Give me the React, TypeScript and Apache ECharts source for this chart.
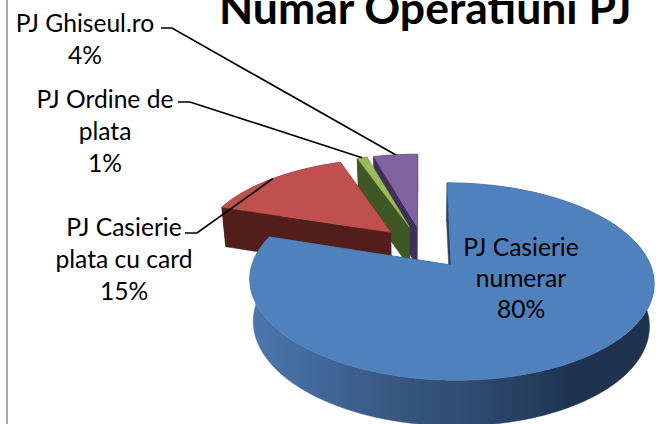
import React, { useEffect, useRef } from "react";
import * as echarts from "echarts";

const names = ["PJ Casierie\nnumerar", "PJ Casierie\nplata cu card", "PJ Ordine de\nplata", "PJ Ghiseul.ro"];
const values = [80, 14.6, 1, 4.4];
const shownPercents = ["80%", "15%", "1%", "4%"];
const topColors = ["#4F81BD", "#C0504D", "#9BBB59", "#8064A2"];
const wallColors = ["#2A4365", "#521E1C", "#3F5722", "#3E3058"];
const paintOrder = [3, 2, 1, 0];

const CX = 423, CY = 247, RX = 193, RY = 90, PERSP = 0.162, EXPLODE = 0.24, DEPTH = 41;
const labelLayout = [
  { x: 521, y: 277, elbow: null },
  { x: 124, y: 258, elbow: [[185, 233], [197, 233]] },
  { x: 105, y: 130, elbow: [[178, 102], [190, 102]] },
  { x: 85, y: 38, elbow: [[161, 28], [172, 28]] },
];
const FONT = "Lato, Carlito, Calibri, sans-serif";

const rad = (a: number) => (a * Math.PI) / 180;
const total = values.reduce((s, v) => s + v, 0);
const starts: number[] = [];
values.reduce((acc, v) => { starts.push((acc / total) * 360); return acc + v; }, 0);
const sweep = (i: number) => (values[i] / total) * 360;

function proj(u: number, v: number, bottom = false): number[] {
  const w = 1 - PERSP * v;
  const X = (u * RX) / w, Y = (v * RY) / w;
  return bottom ? [CX + 0.98 * X, CY + Y + DEPTH / Math.sqrt(w)] : [CX + X, CY + Y];
}
function sliceFrame(i: number) {
  const mid = starts[i] + sweep(i) / 2;
  const ou = EXPLODE * Math.sin(rad(mid)), ov = -EXPLODE * Math.cos(rad(mid));
  const rim = (a: number): number[] => [ou + Math.sin(rad(a)), ov - Math.cos(rad(a))];
  return { ou, ov, rim, mid };
}

function renderSlice(_p: any, api: any) {
  const i = api.value(0) as number;
  const { ou, ov, rim } = sliceFrame(i);
  const a0 = starts[i], a1 = a0 + sweep(i);
  const arc: number[][] = [];
  const n = Math.max(2, Math.ceil(a1 - a0));
  for (let k = 0; k <= n; k++) arc.push(rim(a0 + ((a1 - a0) * k) / n));
  const topPts = [proj(ou, ov), ...arc.map((q) => proj(q[0], q[1]))];
  const wall = (pts: number[][]) => [
    ...pts.map((q) => proj(q[0], q[1])),
    ...pts.slice().reverse().map((q) => proj(q[0], q[1], true)),
  ];
  const arcFill: any = i === 0
    ? new echarts.graphic.LinearGradient(250, 0, 656, 0, [
        { offset: 0, color: "#4B78AE" },
        { offset: 0.3, color: "#3A5C88" },
        { offset: 0.55, color: "#2E4A70" },
        { offset: 0.8, color: "#1F3350" },
        { offset: 1, color: "#1F3350" },
      ], true)
    : wallColors[i];
  const poly = (points: number[][], fill: any) => ({
    type: "polygon",
    shape: { points },
    style: { fill, stroke: fill, lineWidth: 0.5 },
  });
  return {
    type: "group",
    children: [
      poly(wall(arc), arcFill),
      poly(wall([[ou, ov], arc[arc.length - 1]]), wallColors[i]),
      poly(wall([[ou, ov], arc[0]]), wallColors[i]),
      poly(topPts, topColors[i]),
    ],
  };
}

function renderLabel(_p: any, api: any) {
  const i = api.value(0) as number;
  const lay = labelLayout[i];
  const { rim, mid } = sliceFrame(i);
  const children: any[] = [];
  if (lay.elbow) {
    const q = rim(mid);
    children.push({
      type: "polyline",
      shape: { points: [...lay.elbow, proj(q[0], q[1])] },
      style: { stroke: "#000", lineWidth: 1.7, fill: "none" },
    });
  }
  children.push({
    type: "text",
    x: lay.x,
    y: lay.y,
    style: {
      text: names[i] + "\n" + shownPercents[i],
      x: 0, y: 0,
      align: "center",
      verticalAlign: "middle",
      font: "24.6px " + FONT,
      lineHeight: i === 0 ? 31 : 32,
      fill: "#000",
    },
  });
  return { type: "group", children };
}

export default function App() {
  const ref = useRef<HTMLDivElement>(null);
  useEffect(() => {
    document.body.style.margin = "0";
    const chart = echarts.init(ref.current!, null, { renderer: "svg" });
    chart.setOption({
      animation: false,
      backgroundColor: "#fff",
      title: {
        text: "Numar Operatiuni PJ",
        left: 219,
        top: -16,
        padding: 0,
        textStyle: { fontFamily: FONT, fontWeight: "bold", fontSize: 44.5, color: "#000" },
      },
      graphic: [{
        type: "line",
        shape: { x1: 7, y1: 0, x2: 7, y2: 424 },
        style: { stroke: "#A6A6A6", lineWidth: 2 },
      }],
      series: [
        { type: "custom", coordinateSystem: "none", renderItem: renderSlice, data: paintOrder.map((i) => [i]), silent: true, z: 2 },
        { type: "custom", coordinateSystem: "none", renderItem: renderLabel, data: paintOrder.map((i) => [i]), silent: true, z: 3 },
      ],
    });
    return () => chart.dispose();
  }, []);
  return <div ref={ref} style={{ width: 656, height: 424 }} />;
}
